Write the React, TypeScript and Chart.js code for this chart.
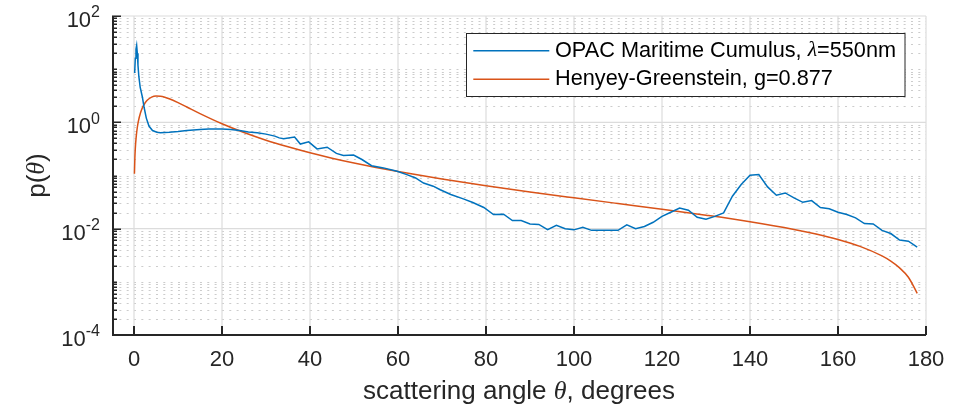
import React, { useEffect, useRef } from 'react';
import { Chart, registerables } from 'chart.js';

Chart.register(...registerables);

// ---------- data ----------
const X_TICKS = [0, 20, 40, 60, 80, 100, 120, 140, 160, 180];
const X_MIN = -5;
const X_MAX = 180;
const Y_MAJOR_EXPONENTS = [-4, -2, 0, 2];
const Y_MIN = 1e-4;
const Y_MAX = 1e2;

const OPAC_ANGLE = [0.15, 0.3, 0.45, 0.6, 0.75, 0.9, 1.1, 1.4, 1.9, 2.3, 2.8, 3.4, 4.2, 5.2, 6, 8, 10, 12, 15, 17, 20, 22, 24, 26, 28, 30, 32, 33, 34, 36.5, 37.8, 39.7, 41.6, 43.9, 46, 47.6, 49.9, 51.8, 54, 56.7, 59.8, 62, 64, 65.8, 68, 69.6, 72, 75, 77, 79.5, 81.7, 84, 86, 88, 90, 92, 94, 96, 98, 100, 102, 104, 110, 112, 114, 116, 118, 120, 122, 124, 126, 128, 130, 132, 134, 136, 138, 140, 142, 144, 146, 148, 150, 152, 154, 156, 158, 160, 162, 164, 166, 168, 170, 172, 174, 176, 178];
const OPAC_P = [8.5, 16, 24, 28, 20, 12, 7.3, 4.6, 3.0, 1.9, 1.2, 0.85, 0.7, 0.65, 0.64, 0.65, 0.67, 0.70, 0.73, 0.75, 0.75, 0.73, 0.70, 0.66, 0.64, 0.60, 0.55, 0.51, 0.49, 0.53, 0.39, 0.43, 0.316, 0.34, 0.26, 0.237, 0.243, 0.20, 0.153, 0.139, 0.12, 0.104, 0.090, 0.072, 0.063, 0.054, 0.044, 0.036, 0.031, 0.025, 0.0184, 0.0187, 0.0142, 0.0142, 0.0123, 0.012, 0.0096, 0.0116, 0.010, 0.0095, 0.0106, 0.0093, 0.0093, 0.0118, 0.010, 0.011, 0.0132, 0.017, 0.0204, 0.0245, 0.0222, 0.0164, 0.015, 0.017, 0.0198, 0.0407, 0.0675, 0.101, 0.104, 0.061, 0.0425, 0.047, 0.038, 0.0313, 0.0338, 0.025, 0.0236, 0.0204, 0.0184, 0.016, 0.0125, 0.0123, 0.0093, 0.0081, 0.0061, 0.0058, 0.0045];

const HG_ANGLE = [0.1, 0.2, 0.3, 0.5, 0.75, 1, 1.5, 2, 2.5, 3, 4, 5, 6, 7, 8, 10, 12, 15, 20, 25, 30, 35, 40, 45, 50, 55, 60, 70, 80, 90, 100, 110, 120, 130, 140, 150, 155, 160, 165, 170, 172, 174, 176, 178];
const HG_P = [0.108, 0.216, 0.324, 0.538, 0.800, 1.055, 1.532, 1.954, 2.313, 2.602, 2.980, 3.125, 3.101, 2.970, 2.781, 2.348, 1.942, 1.458, 0.939, 0.642, 0.461, 0.346, 0.267, 0.212, 0.172, 0.142, 0.119, 0.0858, 0.0641, 0.0491, 0.0381, 0.0297, 0.0232, 0.0179, 0.0135, 0.00968, 0.00793, 0.00625, 0.00464, 0.00307, 0.00245, 0.00183, 0.00122, 0.000609];

type Seg = { text: string; italic?: boolean };
const LEGEND_OPAC: Seg[] = [{ text: 'OPAC Maritime Cumulus, ' }, { text: 'λ', italic: true }, { text: '=550nm' }];
const LEGEND_HG: Seg[] = [{ text: 'Henyey-Greenstein, g=0.877' }];
const X_TITLE: Seg[] = [{ text: 'scattering angle ' }, { text: 'θ', italic: true }, { text: ', degrees' }];
const Y_TITLE: Seg[] = [{ text: 'p(' }, { text: 'θ', italic: true }, { text: ')' }];

// ---------- styles ----------
const BLUE = '#0072BD';
const ORANGE = '#D95319';
const AXIS = '#262626';
const SANS = "'Liberation Sans', Arial, Helvetica, sans-serif";
const SERIF = "'Liberation Serif', 'DejaVu Serif', serif";

function drawSegs(ctx: CanvasRenderingContext2D, segs: Seg[], x: number, y: number, size: number, align: 'left' | 'center') {
  const fontOf = (s: Seg) => (s.italic ? `italic ${size}px ${SERIF}` : `${size}px ${SANS}`);
  let total = 0;
  const widths = segs.map((s) => {
    ctx.font = fontOf(s);
    const w = ctx.measureText(s.text).width;
    total += w;
    return w;
  });
  let cx = align === 'center' ? x - total / 2 : x;
  ctx.textAlign = 'left';
  segs.forEach((s, i) => {
    ctx.font = fontOf(s);
    ctx.fillText(s.text, cx, y);
    cx += widths[i];
  });
}

const matlabAxes = {
  id: 'matlabAxes',
  beforeDatasetsDraw(chart: any) {
    const { ctx, chartArea: a } = chart;
    const xs = chart.scales.x;
    const ys = chart.scales.y;
    ctx.save();
    // minor horizontal grid (dotted)
    ctx.strokeStyle = '#cccccc';
    ctx.lineWidth = 1;
    ctx.setLineDash([2, 5.33]);
    for (let e = -4; e < 2; e++) {
      for (let k = 1; k <= 9; k++) {
        if (k === 1 && Y_MAJOR_EXPONENTS.includes(e)) continue;
        const py = Math.round(ys.getPixelForValue(k * Math.pow(10, e))) + 0.5;
        ctx.beginPath();
        ctx.moveTo(a.left, py);
        ctx.lineTo(a.right, py);
        ctx.stroke();
      }
    }
    ctx.setLineDash([]);
    // major grid (solid)
    ctx.strokeStyle = '#dcdcdc';
    ctx.lineWidth = 1.2;
    Y_MAJOR_EXPONENTS.forEach((e) => {
      const py = ys.getPixelForValue(Math.pow(10, e));
      ctx.beginPath();
      ctx.moveTo(a.left, py);
      ctx.lineTo(a.right, py);
      ctx.stroke();
    });
    X_TICKS.forEach((t) => {
      const px = xs.getPixelForValue(t);
      ctx.beginPath();
      ctx.moveTo(px, a.top);
      ctx.lineTo(px, a.bottom);
      ctx.stroke();
    });
    ctx.restore();
  },
  afterDatasetsDraw(chart: any) {
    const { ctx, chartArea: a } = chart;
    const xs = chart.scales.x;
    const ys = chart.scales.y;
    ctx.save();
    ctx.strokeStyle = AXIS;
    ctx.fillStyle = AXIS;
    // axes lines
    ctx.lineWidth = 2;
    ctx.beginPath();
    ctx.moveTo(a.left + 1, a.top);
    ctx.lineTo(a.left + 1, a.bottom + 1);
    ctx.moveTo(a.left, a.bottom);
    ctx.lineTo(a.right, a.bottom);
    ctx.stroke();
    // x ticks
    X_TICKS.forEach((t) => {
      const px = xs.getPixelForValue(t);
      ctx.beginPath();
      ctx.moveTo(px, a.bottom);
      ctx.lineTo(px, a.bottom - 9);
      ctx.stroke();
    });
    // y ticks
    ctx.lineWidth = 1.5;
    for (let e = -4; e <= 2; e++) {
      for (let k = 1; k <= 9; k++) {
        const v = k * Math.pow(10, e);
        if (v > Y_MAX * 1.0001) continue;
        const major = k === 1 && Y_MAJOR_EXPONENTS.includes(e);
        const py = Math.round(ys.getPixelForValue(v)) + 0.25;
        ctx.beginPath();
        ctx.moveTo(a.left, py);
        ctx.lineTo(a.left + (major ? 9 : 5), py);
        ctx.stroke();
      }
    }
    // x tick labels
    ctx.font = `22px ${SANS}`;
    ctx.textAlign = 'center';
    ctx.textBaseline = 'middle';
    X_TICKS.forEach((t) => {
      ctx.fillText(String(t), xs.getPixelForValue(t), 360);
    });
    // y tick labels 10^e
    Y_MAJOR_EXPONENTS.forEach((e) => {
      const py = ys.getPixelForValue(Math.pow(10, e));
      const sup = String(e);
      ctx.font = `16px ${SANS}`;
      const supW = ctx.measureText(sup).width;
      ctx.textAlign = 'right';
      ctx.fillText(sup, 100, py - 3);
      ctx.font = `22px ${SANS}`;
      ctx.fillText('10', 100 - supW, py + 5);
    });
    // x title
    ctx.textBaseline = 'alphabetic';
    drawSegs(ctx, X_TITLE, (a.left + a.right) / 2, 399, 26, 'center');
    // y title
    ctx.save();
    ctx.translate(37.5, (a.top + a.bottom) / 2);
    ctx.rotate(-Math.PI / 2);
    ctx.textBaseline = 'middle';
    drawSegs(ctx, Y_TITLE, 0, 0, 26, 'center');
    ctx.restore();
    // legend
    const lx = 466.5, ly = 33.5, lw = 438.5, lh = 63;
    ctx.fillStyle = '#ffffff';
    ctx.fillRect(lx, ly, lw, lh);
    ctx.strokeStyle = AXIS;
    ctx.lineWidth = 1;
    ctx.strokeRect(lx, ly, lw, lh);
    const rows: [string, Seg[], number][] = [
      [BLUE, LEGEND_OPAC, 50.7],
      [ORANGE, LEGEND_HG, 79.3],
    ];
    rows.forEach(([color, segs, ry]) => {
      ctx.strokeStyle = color;
      ctx.lineWidth = 1.5;
      ctx.beginPath();
      ctx.moveTo(473.3, ry);
      ctx.lineTo(549.3, ry);
      ctx.stroke();
      ctx.fillStyle = '#000000';
      ctx.textBaseline = 'middle';
      drawSegs(ctx, segs, 555, ry, 21.7, 'left');
    });
    ctx.restore();
  },
};

export default function App() {
  const ref = useRef<HTMLCanvasElement>(null);
  useEffect(() => {
    document.body.style.margin = '0';
    const canvas = ref.current!;
    const chart = new Chart(canvas, {
      type: 'line',
      data: {
        datasets: [
          {
            label: 'OPAC Maritime Cumulus, λ=550nm',
            data: OPAC_ANGLE.map((ang, i) => ({ x: ang, y: OPAC_P[i] })),
            borderColor: BLUE,
            borderWidth: 1.5,
            pointRadius: 0,
            tension: 0,
            fill: false,
          },
          {
            label: 'Henyey-Greenstein, g=0.877',
            data: HG_ANGLE.map((ang, i) => ({ x: ang, y: HG_P[i] })),
            borderColor: ORANGE,
            borderWidth: 1.5,
            pointRadius: 0,
            cubicInterpolationMode: 'monotone',
            fill: false,
          },
        ],
      },
      options: {
        responsive: false,
        animation: false,
        devicePixelRatio: 1,
        events: [],
        layout: { padding: { left: 112, top: 16, right: 42, bottom: 72 } },
        scales: {
          x: { type: 'linear', min: X_MIN, max: X_MAX, display: false },
          y: { type: 'logarithmic', min: Y_MIN, max: Y_MAX, display: false },
        },
        plugins: { legend: { display: false }, tooltip: { enabled: false } },
      },
      plugins: [matlabAxes],
    } as any);
    return () => chart.destroy();
  }, []);
  return <canvas ref={ref} width={968} height={407} style={{ display: 'block' }} />;
}
